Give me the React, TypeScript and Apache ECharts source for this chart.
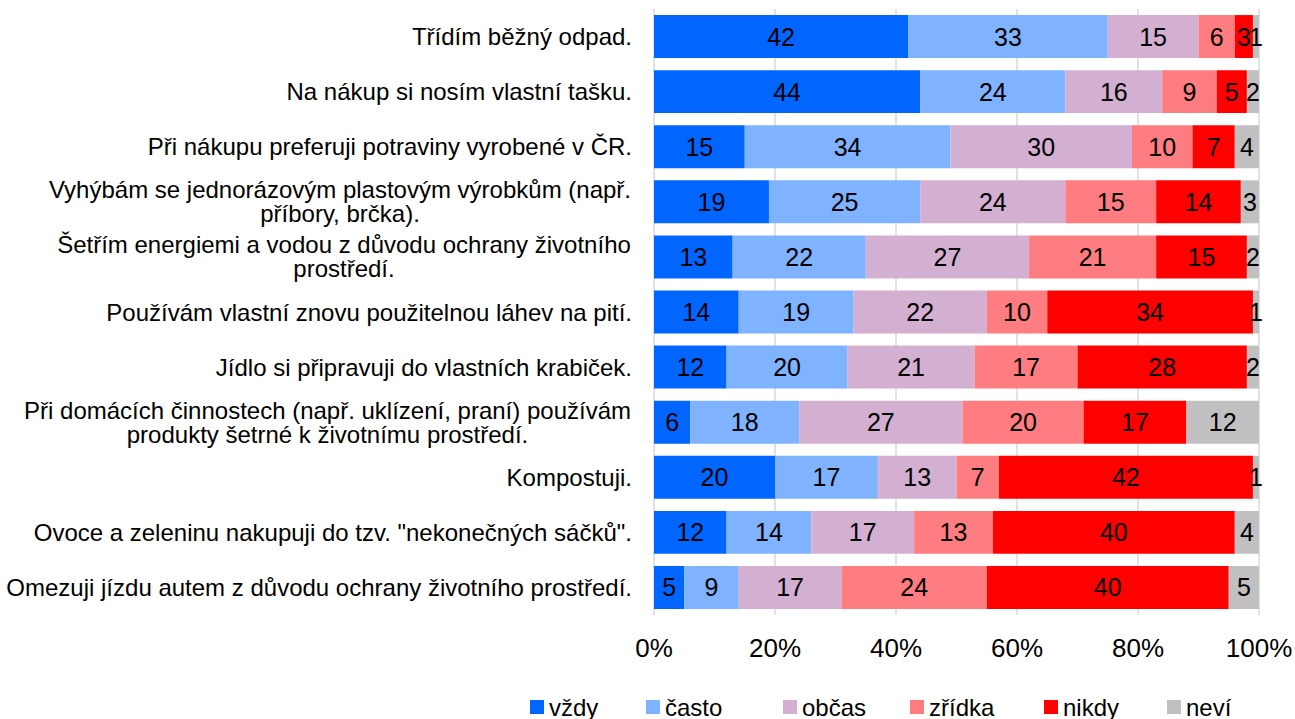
import React, { useEffect, useRef } from "react";
import * as echarts from "echarts";

const categories: string[] = [
  "Třídím běžný odpad.",
  "Na nákup si nosím vlastní tašku.",
  "Při nákupu preferuji potraviny vyrobené v ČR.",
  "Vyhýbám se jednorázovým plastovým výrobkům (např.\npříbory, brčka).",
  "Šetřím energiemi a vodou z důvodu ochrany životního\nprostředí.",
  "Používám vlastní znovu použitelnou láhev na pití.",
  "Jídlo si připravuji do vlastních krabiček.",
  "Při domácích činnostech (např. uklízení, praní) používám\nprodukty šetrné k životnímu prostředí.",
  "Kompostuji.",
  "Ovoce a zeleninu nakupuji do tzv. \"nekonečných sáčků\".",
  "Omezuji jízdu autem z důvodu ochrany životního prostředí.",
];

const seriesNames: string[] = ["vždy", "často", "občas", "zřídka", "nikdy", "neví"];

const vzdy: number[] = [42, 44, 15, 19, 13, 14, 12, 6, 20, 12, 5];
const casto: number[] = [33, 24, 34, 25, 22, 19, 20, 18, 17, 14, 9];
const obcas: number[] = [15, 16, 30, 24, 27, 22, 21, 27, 13, 17, 17];
const zridka: number[] = [6, 9, 10, 15, 21, 10, 17, 20, 7, 13, 24];
const nikdy: number[] = [3, 5, 7, 14, 15, 34, 28, 17, 42, 40, 40];
const nevi: number[] = [1, 2, 4, 3, 2, 1, 2, 12, 1, 4, 5];

const xTicks: number[] = [0, 20, 40, 60, 80, 100];

const colors = ["#0066FF", "#7FB2FF", "#D3AFD2", "#FF7C80", "#FF0000", "#C0C0C0"];
const FONT = "Arial, 'Liberation Sans', sans-serif";
const CAT_SIZE = 24;
const legendLeft = [530, 646, 783, 910, 1044, 1167];

function measure(text: string, size: number): number {
  const c = document.createElement("canvas");
  const ctx = c.getContext("2d")!;
  ctx.font = `${size}px Arial, "Liberation Sans", sans-serif`;
  return ctx.measureText(text).width;
}

export default function App() {
  const ref = useRef<HTMLDivElement>(null);
  useEffect(() => {
    const chart = echarts.init(ref.current!, null, { renderer: "svg" });
    const rich: Record<string, any> = {};
    categories.forEach((c, i) => {
      if (c.includes("\n")) {
        const w = Math.max(...c.split("\n").map((l) => measure(l, CAT_SIZE)));
        rich["r" + i] = {
          width: Math.ceil(w) + 2,
          align: "center",
          fontSize: CAT_SIZE,
          fontFamily: FONT,
          color: "#000",
          lineHeight: 24,
        };
      }
    });
    const data = [vzdy, casto, obcas, zridka, nikdy, nevi];
    const option: any = {
      animation: false,
      backgroundColor: "#fff",
      grid: { left: 654, right: 36, top: 9, bottom: 104, containLabel: false, outerBoundsMode: "none" },
      xAxis: {
        type: "value",
        min: xTicks[0],
        max: xTicks[xTicks.length - 1],
        interval: xTicks[1] - xTicks[0],
        axisLine: { show: false },
        axisTick: { show: false },
        splitLine: { show: true, lineStyle: { color: "#D9D9D9", width: 1.5 } },
        axisLabel: {
          formatter: "{value}%",
          fontSize: 26,
          fontFamily: FONT,
          color: "#000",
          margin: 20,
        },
      },
      yAxis: {
        type: "category",
        inverse: true,
        data: categories,
        axisLine: { show: false },
        axisTick: { show: false },
        axisLabel: {
          fontSize: CAT_SIZE,
          fontFamily: FONT,
          color: "#000",
          margin: 22,
          lineHeight: 24,
          interval: 0,
          formatter: (v: string, i: number) => {
            if (!v.includes("\n")) return v;
            return v
              .split("\n")
              .map((l) => `{r${i}|${l}}`)
              .join("\n");
          },
          rich,
        },
      },
      legend: seriesNames.map((n, i) => ({
        data: [n],
        left: legendLeft[i],
        top: 695,
        padding: 0,
        itemWidth: 14,
        itemHeight: 14,
        icon: "rect",
        selectedMode: false,
        textStyle: { fontSize: 24, fontFamily: FONT, color: "#000" },
      })),
      series: seriesNames.map((n, i) => ({
        name: n,
        type: "bar",
        stack: "total",
        barCategoryGap: "22%",
        data: data[i],
        itemStyle: { color: colors[i] },
        label: {
          show: true,
          position: "inside",
          color: "#000",
          fontSize: 25,
          fontFamily: FONT,
          formatter: "{c}",
        },
      })),
    };
    chart.setOption(option);
    return () => chart.dispose();
  }, []);
  return (
    <div
      ref={ref}
      style={{ position: "fixed", left: 0, top: 0, width: 1295, height: 719 }}
    />
  );
}
